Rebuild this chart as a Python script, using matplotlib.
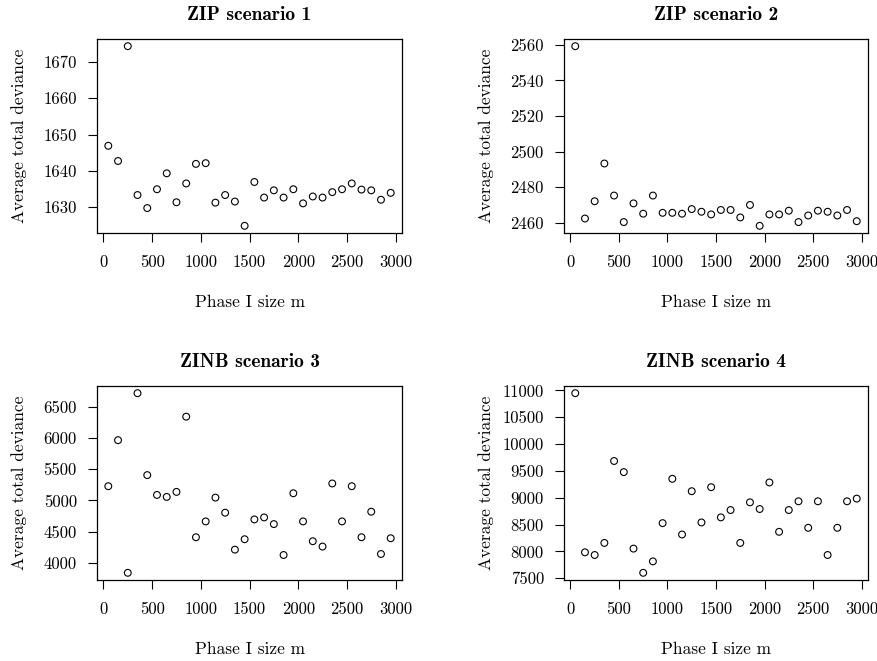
import matplotlib
matplotlib.use("Agg")
import matplotlib.pyplot as plt
import numpy as np

m_sizes = list(range(50, 3000, 100))

zip1 = [1646.9, 1642.7, 1674.4, 1633.3, 1629.7, 1634.9, 1639.3, 1631.3, 1636.5, 1641.9,
        1642.1, 1631.2, 1633.3, 1631.5, 1624.8, 1636.9, 1632.6, 1634.6, 1632.6, 1634.9,
        1631.0, 1632.9, 1632.6, 1634.1, 1634.9, 1636.5, 1634.8, 1634.6, 1632.0, 1633.9]

zip2 = [2559.2, 2462.4, 2472.1, 2493.3, 2475.3, 2460.4, 2470.9, 2465.1, 2475.3, 2465.6,
        2465.6, 2465.1, 2467.7, 2466.2, 2464.7, 2467.2, 2467.2, 2463.0, 2470.0, 2458.3,
        2464.7, 2464.7, 2466.8, 2460.4, 2464.1, 2466.8, 2466.2, 2464.1, 2467.2, 2460.9]

zinb3 = [5228, 5967, 3838, 6721, 5406, 5088, 5056, 5137, 6344, 4409,
         4663, 5045, 4803, 4210, 4377, 4695, 4727, 4620, 4124, 5115,
         4663, 4345, 4259, 5272, 4663, 5228, 4409, 4819, 4140, 4393]

zinb4 = [10948, 7982, 7932, 8157, 9684, 9477, 8051, 7600, 7813, 8526,
         9352, 8314, 9121, 8539, 9196, 8633, 8770, 8157, 8914, 8789,
         9284, 8364, 8770, 8933, 8439, 8933, 7932, 8439, 8933, 8983]

titles = ["ZIP scenario 1", "ZIP scenario 2", "ZINB scenario 3", "ZINB scenario 4"]
series = [zip1, zip2, zinb3, zinb4]
yticks = [[1630, 1640, 1650, 1660, 1670],
          [2460, 2480, 2500, 2520, 2540, 2560],
          [4000, 4500, 5000, 5500, 6000, 6500],
          [7500, 8000, 8500, 9000, 9500, 10000, 10500, 11000]]
xticks = [0, 500, 1000, 1500, 2000, 2500, 3000]

W, H = 877, 661
fig = plt.figure(figsize=(W / 100, H / 100), dpi=100)

# axes boxes in pixel coords: left, right, top, bottom
boxes = [(97, 402, 39, 233), (564, 868, 39, 233),
         (97, 402, 386, 580), (564, 868, 386, 580)]

rm = "cmr10"
bf = "cmb10"

for (l, r, t, b), ttl, ys, yt in zip(boxes, titles, series, yticks):
    ax = fig.add_axes([l / W, 1 - b / H, (r - l) / W, (b - t) / H])
    ax.scatter(m_sizes, ys, s=24, facecolors="none", edgecolors="black", linewidths=0.8)
    ax.set_xlim(-66, 3066)
    lo, hi = min(ys), max(ys)
    pad = (hi - lo) * 0.04
    ax.set_ylim(lo - pad, hi + pad)
    ax.set_xticks(xticks)
    ax.set_yticks(yt)
    ax.set_xticklabels([str(v) for v in xticks], fontfamily=rm, fontsize=12)
    ax.set_yticklabels([str(v) for v in yt], fontfamily=rm, fontsize=12)
    ax.tick_params(direction="out", length=6.5, width=0.8, color="black")
    ax.tick_params(axis="x", pad=9)
    ax.tick_params(axis="y", pad=8)
    for sp in ax.spines.values():
        sp.set_linewidth(0.9)
        sp.set_color("black")
    ax.set_title(ttl, fontfamily=bf, fontsize=14, pad=14)
    ax.set_xlabel("Phase I size m", fontfamily=rm, fontsize=12.5)
    ax.set_ylabel("Average total deviance", fontfamily=rm, fontsize=12.5)
    h = b - t
    w = r - l
    ax.xaxis.set_label_coords(0.5, -(302 - h - t + t) / h + 0.0)
    ax.xaxis.label.set_va("center")
    ax.xaxis.set_label_coords(0.5, -(302 - 233) / h)
    ax.yaxis.label.set_va("center")
    ax.yaxis.set_label_coords(-(97 - 19) / w, 0.5)

fig.savefig("out.png", dpi=100)
